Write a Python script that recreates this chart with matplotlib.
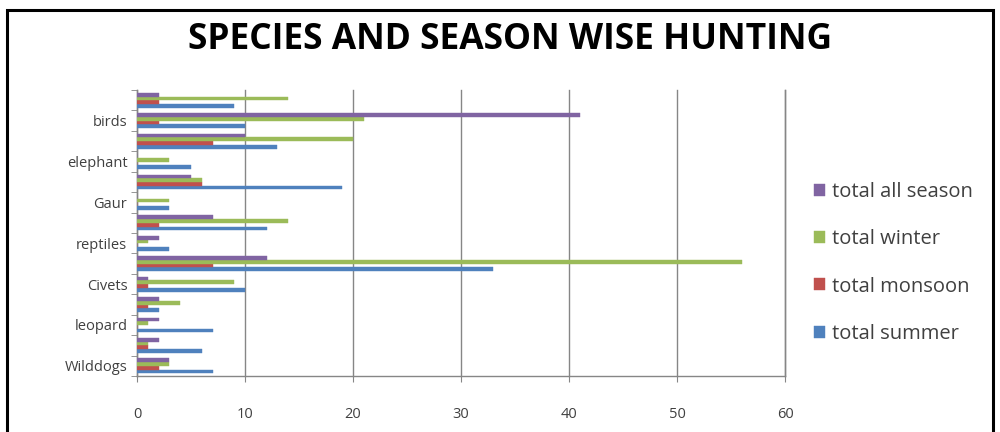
import matplotlib
matplotlib.use("Agg")
import matplotlib.pyplot as plt
import numpy as np
from matplotlib.patches import Rectangle

# Categories from bottom to top; every second one carries a visible label
categories = ["Wilddogs", "", "leopard", "", "Civets", "", "reptiles", "",
              "Gaur", "", "elephant", "", "birds", ""]

total_summer     = [7, 6, 7, 2, 10, 33, 3, 12, 3, 19, 5, 13, 10, 9]
total_monsoon    = [2, 1, 0, 1, 1, 7, 0, 2, 0, 6, 0, 7, 2, 2]
total_winter     = [3, 1, 1, 4, 9, 56, 1, 14, 3, 6, 3, 20, 21, 14]
total_all_season = [3, 2, 2, 2, 1, 12, 2, 7, 0, 5, 0, 10, 41, 2]

series = [
    ("total summer", total_summer, "#4F81BD"),
    ("total monsoon", total_monsoon, "#C0504D"),
    ("total winter", total_winter, "#9BBB59"),
    ("total all season", total_all_season, "#8064A2"),
]

x_ticks = [0, 10, 20, 30, 40, 50, 60]

plt.rcParams["font.family"] = ["Open Sans", "DejaVu Sans"]

fig = plt.figure(figsize=(10, 4.32), dpi=100)
ax = fig.add_axes([0.137, 0.1296, 0.648, 0.662])

n = len(categories)
y = np.arange(n)
h = 1 / 5.5
handles = []
for k, (name, vals, color) in enumerate(series):
    off = (k - 1.5) * h
    b = ax.barh(y + off, vals, height=h, color=color, edgecolor=color,
                linewidth=0.3, label=name, zorder=3)
    handles.append(b)

ax.set_xlim(0, 60)
ax.set_ylim(-0.5, n - 0.5)
ax.set_xticks(x_ticks)
ax.set_xticklabels([str(t) for t in x_ticks], fontsize=10.5, color="#404040")
ax.set_yticks(y)
ax.set_yticklabels(categories, fontsize=10.5, color="#404040")
ax.set_yticks(np.arange(-0.5, n, 1.0), minor=True)
ax.tick_params(axis="y", which="major", length=0, pad=7)
ax.tick_params(axis="y", which="minor", length=4, color="#868686", direction="out")
ax.tick_params(axis="x", which="major", length=4, color="#868686", pad=18)

ax.grid(axis="x", color="#868686", linewidth=1.0, zorder=0)
for gl in ax.get_xgridlines():
    gl.set_clip_on(False)
ax.spines["top"].set_visible(False)
for side in ["left", "bottom", "right"]:
    ax.spines[side].set_color("#868686")
    ax.spines[side].set_linewidth(1.0)

fig.text(0.51, 0.907, "SPECIES AND SEASON WISE HUNTING", ha="center", va="center",
         fontsize=25.5, fontweight="bold", color="black")

leg = fig.legend(handles[::-1], [s[0] for s in series][::-1],
                 loc="upper left", bbox_to_anchor=(0.806, 0.597),
                 frameon=False, fontsize=14.5, labelspacing=1.35,
                 handlelength=0.55, handleheight=0.55, handletextpad=0.35,
                 borderaxespad=0)
for t in leg.get_texts():
    t.set_color("#404040")

fig.patches.append(Rectangle((0.007, -0.05), 0.986, 1.028, transform=fig.transFigure,
                             fill=False, edgecolor="black", linewidth=2.2))

fig.savefig("out.png", dpi=100)
